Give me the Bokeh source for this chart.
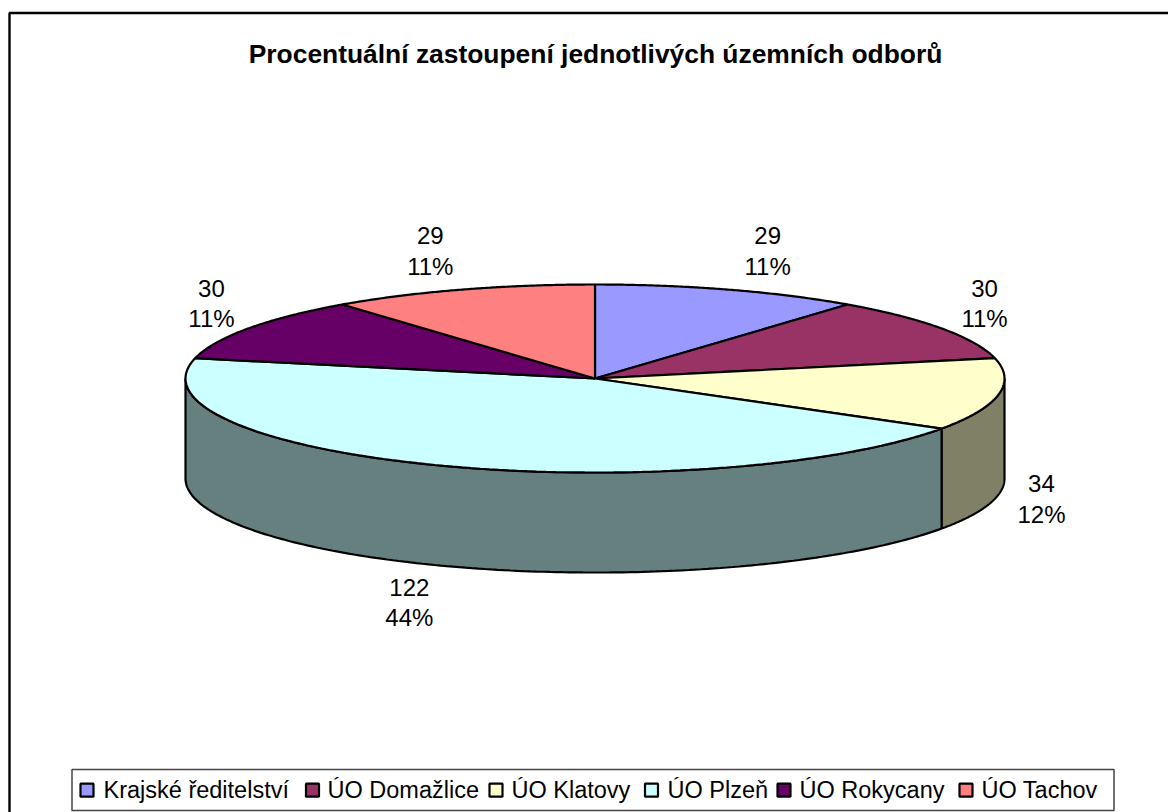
import numpy as np
from bokeh.plotting import figure
from bokeh.models import Range1d
from bokeh.core.properties import value
from bokeh.embed import file_html
from bokeh.resources import INLINE

title_text = "Procentuální zastoupení jednotlivých územních odborů"
categories = ["Krajské ředitelství", "ÚO Domažlice", "ÚO Klatovy", "ÚO Plzeň", "ÚO Rokycany", "ÚO Tachov"]
counts = [29, 30, 34, 122, 30, 29]
percents = ["11%", "11%", "12%", "44%", "11%", "11%"]
top_colors = ["#9999FF", "#993366", "#FFFFCC", "#CCFFFF", "#660066", "#FF8080"]
side_colors = ["#4D4D80", "#4D1A33", "#808066", "#668080", "#330033", "#804040"]

# layout (page pixels)
W, H = 1168, 812
OX, OY = 0, 0
CX, CY, RX, RY, DEPTH = 594.5, 378.0, 409.5, 94.0, 100.0
FONT = value("Liberation Sans")
label_offsets = [(39, -39), (43, -25), (43, 104), (-30, 137), (-37, -25), (-31, -39)]
legend_marker_x = [86.5, 312, 495.5, 651, 783.5, 965.5]
legend_text_x = [103, 327, 511, 667, 799, 981]

p = figure(width=W, height=H, output_backend="svg", toolbar_location=None,
           x_range=Range1d(OX, OX + W), y_range=Range1d(OY + H, OY),
           min_border=0, outline_line_color=None, background_fill_color="white")
p.axis.visible = False
p.grid.visible = False
p.xaxis.visible = False
p.yaxis.visible = False


def px(t):
    return CX + RX * np.sin(t)


def py(t):
    return CY - RY * np.cos(t)


cum = np.concatenate([[0], np.cumsum(counts)]) / sum(counts) * 2 * np.pi

# chart frame
p.line([9, 9, OX + W], [OY + H, 12.5, 12.5], line_color="black", line_width=2.4)

# side wall: only the front half of the disc (pi/2 .. 3pi/2) is visible
for i in range(len(counts)):
    a = max(cum[i], np.pi / 2)
    b = min(cum[i + 1], 3 * np.pi / 2)
    if b <= a:
        continue
    t = np.linspace(a, b, 160)
    xs = np.concatenate([px(t), px(t[::-1])])
    ys = np.concatenate([py(t), py(t[::-1]) + DEPTH])
    p.patch(xs, ys, fill_color=side_colors[i], line_color="black", line_width=2.2)

# top face
for i in range(len(counts)):
    t = np.linspace(cum[i], cum[i + 1], 120)
    xs = np.concatenate([[CX], px(t)])
    ys = np.concatenate([[CY], py(t)])
    p.patch(xs, ys, fill_color=top_colors[i], line_color="black", line_width=2.2)

# data labels
for i in range(len(counts)):
    mid = (cum[i] + cum[i + 1]) / 2
    lx = px(mid) + label_offsets[i][0]
    ly = py(mid) + label_offsets[i][1]
    p.text([lx], [ly - 15], text=[str(counts[i])], text_font=FONT, text_font_size="24px",
           text_align="center", text_baseline="middle", text_color="black")
    p.text([lx], [ly + 15.5], text=[percents[i]], text_font=FONT, text_font_size="24px",
           text_align="center", text_baseline="middle", text_color="black")

# title
p.text([595], [53], text=[title_text], text_font=FONT, text_font_style="bold",
       text_font_size="26.4px", text_align="center", text_baseline="middle", text_color="black")

# legend
p.quad(left=[71.5], right=[1113.5], top=[769], bottom=[810], fill_color="white",
       line_color="#444444", line_width=1.5)
p.rect(legend_marker_x, [789.7] * 6, width=13, height=13, fill_color=top_colors,
       line_color="black", line_width=2.2)
p.text(legend_text_x, [789] * 6, text=categories, text_font=FONT, text_font_size="23.5px",
       text_align="left", text_baseline="middle", text_color="black")

open("out.html", "w").write(file_html(p, INLINE))
